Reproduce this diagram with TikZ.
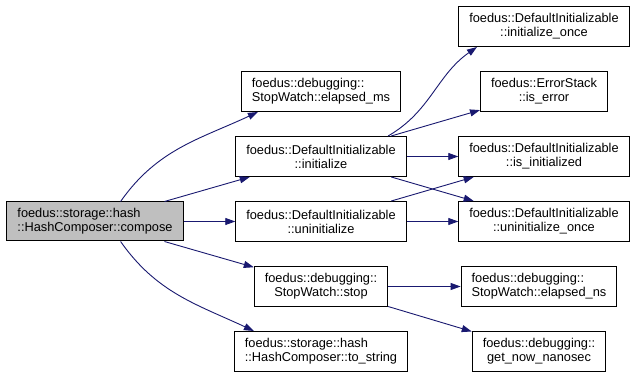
\documentclass[tikz,border=0pt]{standalone}
\usepackage{fontspec}
\setmainfont{Liberation Sans}
\usetikzlibrary{arrows.meta}
\definecolor{edgeblue}{HTML}{191970}
\definecolor{nodegray}{HTML}{BFBFBF}
\tikzstyle{func} = [rectangle, minimum height=40pt, inner xsep=10.5pt, inner ysep=2pt, align=center, draw=black, line width=1pt, fill=white, font=\fontsize{12.8}{14}\selectfont]
\tikzstyle{funcl} = [func, align=left]
\tikzstyle{current} = [funcl, fill=nodegray, minimum height=39pt]
\tikzstyle{arrow} = [draw=edgeblue, line width=0.9pt, -{Triangle[length=10pt,width=7pt]}]

\begin{document}
\begin{tikzpicture}[node distance=65pt, x=1pt, y=1pt]
    \fill [white] (-95,-157.5) rectangle (541,221.5);
    \useasboundingbox (-95,-157.5) rectangle (541,221.5);
    \node (compose) [current] {foedus::storage::hash\\::HashComposer::compose};
    \node (uninit) [func, node distance=226pt, right of=compose] {foedus::DefaultInitializable\\::uninitialize};
    \node (init) [func, above of=uninit] {foedus::DefaultInitializable\\::initialize};
    \node (elapsedms) [funcl, above of=init] {foedus::debugging::\\StopWatch::elapsed\_ms};
    \node (stop) [func, below of=uninit] {foedus::debugging::\\StopWatch::stop};
    \node (tostring) [funcl, below of=stop] {foedus::storage::hash\\::HashComposer::to\_string};
    \node (uninitonce) [func, node distance=223pt, right of=uninit] {foedus::DefaultInitializable\\::uninitialize\_once};
    \node (isinit) [func, above of=uninitonce] {foedus::DefaultInitializable\\::is\_initialized};
    \node (iserror) [func, above of=isinit] {foedus::ErrorStack\\::is\_error};
    \node (initonce) [func, above of=iserror] {foedus::DefaultInitializable\\::initialize\_once};
    \node (elapsedns) [funcl, node distance=218pt, right of=stop] {foedus::debugging::\\StopWatch::elapsed\_ns};
    \node (nanosec) [func, below of=elapsedns] {foedus::debugging::\\get\_now\_nanosec};

    \draw [arrow] (compose.38) to [out=55, in=205] (elapsedms.198);
    \draw [arrow] (compose) -- (init);
    \draw [arrow] (compose) -- (uninit);
    \draw [arrow] (compose) -- (stop);
    \draw [arrow] (compose.322) to [out=-55, in=155] (tostring.163);

    \draw [arrow] (init.17) to [out=30, in=215] (initonce.197);
    \draw [arrow] (init) -- (iserror);
    \draw [arrow] (init) -- (isinit);
    \draw [arrow] (init) -- (uninitonce);
    \draw [arrow] (uninit) -- (isinit);
    \draw [arrow] (uninit) -- (uninitonce);

    \draw [arrow] (stop) -- (elapsedns);
    \draw [arrow] (stop) -- (nanosec);
\end{tikzpicture}
\end{document}
